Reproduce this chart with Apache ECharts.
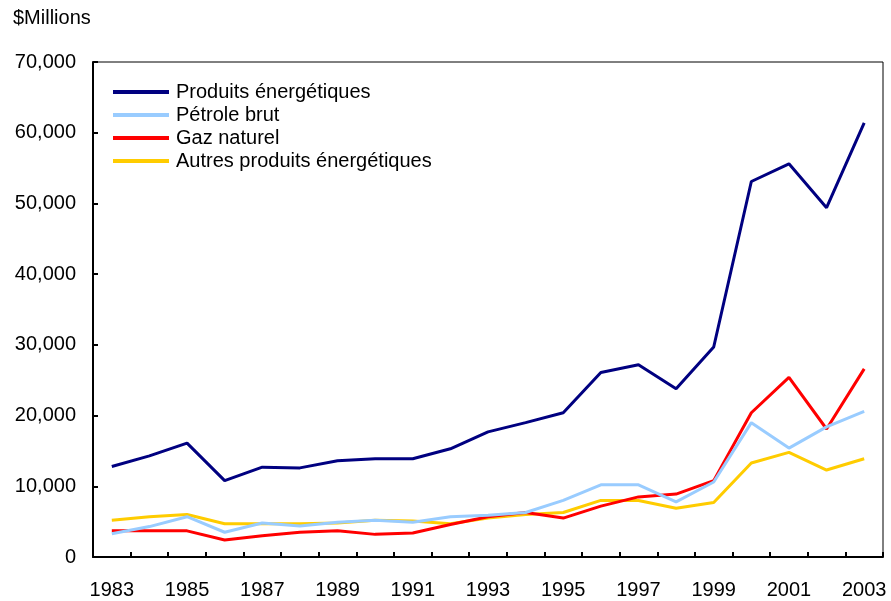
<!DOCTYPE html>
<html>
<head>
<meta charset="utf-8">
<script src="https://cdn.jsdelivr.net/npm/echarts@6/dist/echarts.min.js"></script>
<style>html,body{margin:0;padding:0;background:#fff}#c{width:891px;height:601px}</style>
</head>
<body>
<div id="c"></div>
<script>
const years = ['1983','1984','1985','1986','1987','1988','1989','1990','1991','1992','1993','1994','1995','1996','1997','1998','1999','2000','2001','2002','2003'];
const produitsEnergetiques = [12800,14300,16100,10800,12700,12600,13600,13900,13900,15300,17700,19000,20400,26100,27200,23800,29700,53100,55600,49400,61400];
const petroleBrut = [3300,4300,5700,3500,4800,4400,4900,5200,4900,5700,5900,6300,8000,10200,10200,7800,10600,19000,15400,18400,20600];
const gazNaturel = [3700,3700,3700,2400,3000,3500,3700,3200,3400,4600,5700,6300,5500,7200,8500,8900,10800,20400,25400,18100,26600];
const autresProduits = [5200,5700,6000,4700,4700,4700,4800,5200,5100,4700,5500,6000,6300,8000,8000,6900,7700,13300,14800,12300,13900];
const seriesNames = ['Produits énergétiques','Pétrole brut','Gaz naturel','Autres produits énergétiques'];
const colors = ['#000080','#99CCFF','#FF0000','#FFCC00'];
const dataSets = [produitsEnergetiques, petroleBrut, gazNaturel, autresProduits];

const chart = echarts.init(document.getElementById('c'));
const font = 'Liberation Sans, Arial, sans-serif';
chart.setOption({
  animation: false,
  backgroundColor: '#fff',
  color: colors,
  grid: {left: 93, right: 8, top: 62, bottom: 44, show: true, borderColor: '#000', borderWidth: 1, backgroundColor: 'transparent'},
  graphic: [{type: 'text', left: 13, top: 8, style: {text: '$Millions', font: '20px ' + font, fill: '#000'}}],
  legend: {
    orient: 'vertical', left: 113, top: 82, padding: 0, icon: 'rect', itemWidth: 56, itemHeight: 4, itemGap: 3,
    textStyle: {fontFamily: font, fontSize: 20, color: '#000', lineHeight: 20, padding: [0,0,0,2]},
    data: seriesNames
  },
  xAxis: {
    type: 'category', data: years, boundaryGap: true,
    axisLine: {lineStyle: {color: '#000', width: 2}},
    axisTick: {show: true, inside: true, length: 5, lineStyle: {color: '#000', width: 2}, interval: 0},
    axisLabel: {interval: 1, color: '#000', fontFamily: font, fontSize: 20, margin: 23},
    splitLine: {show: false}
  },
  yAxis: {
    type: 'value', min: 0, max: 70000, interval: 10000,
    axisLine: {show: true, lineStyle: {color: '#000', width: 2}},
    axisTick: {show: true, inside: true, length: 5, lineStyle: {color: '#000', width: 2}},
    axisLabel: {color: '#000', fontFamily: font, fontSize: 20, margin: 17,
      formatter: v => v.toLocaleString('en-US')},
    splitLine: {show: false}
  },
  series: seriesNames.map((n, i) => ({
    name: n, type: 'line', data: dataSets[i], symbol: 'none',
    lineStyle: {width: 3, color: colors[i]}, itemStyle: {color: colors[i]}, z: 10 - i
  }))
});
</script>
</body>
</html>
